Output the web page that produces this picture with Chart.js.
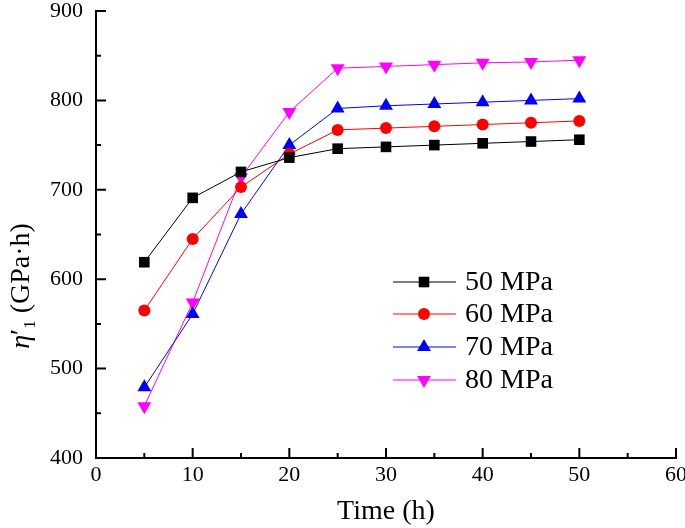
<!DOCTYPE html>
<html lang="en">
<head>
<meta charset="UTF-8">
<title>Viscosity coefficient vs time</title>
<style>
  html, body { margin: 0; padding: 0; background: #fff; }
</style>
</head>
<body>
<canvas id="myChart" width="685" height="528"></canvas>
<script src="https://cdn.jsdelivr.net/npm/chart.js"></script>
<script>
// data
const times = [5, 10, 15, 20, 25, 30, 35, 40, 45, 50];
const mpa50 = [619, 691, 720, 736, 746, 748, 750, 752, 754, 756];
const mpa60 = [565, 645, 703, 740, 767, 769, 771, 773, 775, 777];
const mpa70 = [479, 561, 673, 750, 791, 794, 796, 798, 800, 802];
const mpa80 = [458, 574, 714, 787, 836, 838, 840, 842, 843, 845];
const seriesNames = ['50 MPa', '60 MPa', '70 MPa', '80 MPa'];
const xMajor = [0, 10, 20, 30, 40, 50, 60];
const xMinor = [5, 15, 25, 35, 45, 55];
const yMajor = [400, 500, 600, 700, 800, 900];
const yMinor = [450, 550, 650, 750, 850];

const FONT = '"Liberation Serif", "Times New Roman", serif';

function pts(arr) {
    return times.map((t, i) => ({ x: t, y: arr[i] }));
}

const styles = [
    { color: '#000000', pointStyle: 'rect', radius: 7.5, rotation: 0 },
    { color: '#ff0000', pointStyle: 'circle', radius: 6, rotation: 0 },
    { color: '#0000ff', pointStyle: 'triangle', radius: 8, rotation: 0 },
    { color: '#ff00ff', pointStyle: 'triangle', radius: 8, rotation: 180 },
];

const datasets = [mpa50, mpa60, mpa70, mpa80].map((arr, i) => ({
    label: seriesNames[i],
    data: pts(arr),
    borderColor: styles[i].color,
    backgroundColor: styles[i].color,
    borderWidth: 1,
    pointStyle: styles[i].pointStyle,
    pointRadius: styles[i].radius,
    pointRotation: styles[i].rotation,
    pointBorderWidth: 0,
    showLine: true,
    tension: 0,
}));

// inward ticks, axis titles and the legend box
const decorations = {
    id: 'decorations',
    afterDraw(chart) {
        const c = chart.ctx;
        const xs = chart.scales.x, ys = chart.scales.y;
        const left = chart.chartArea.left, bottom = chart.chartArea.bottom;
        c.save();
        c.strokeStyle = '#000';
        c.lineWidth = 2;
        c.beginPath();
        xMajor.forEach(v => { const px = xs.getPixelForValue(v); c.moveTo(px, bottom); c.lineTo(px, bottom - 10); });
        xMinor.forEach(v => { const px = xs.getPixelForValue(v); c.moveTo(px, bottom); c.lineTo(px, bottom - 5); });
        yMajor.forEach(v => { const py = ys.getPixelForValue(v); c.moveTo(left, py); c.lineTo(left + 10, py); });
        yMinor.forEach(v => { const py = ys.getPixelForValue(v); c.moveTo(left, py); c.lineTo(left + 5, py); });
        c.stroke();

        // x title
        c.fillStyle = '#000';
        c.font = '28px ' + FONT;
        c.textAlign = 'center';
        c.textBaseline = 'alphabetic';
        c.fillText('Time (h)', (xs.left + xs.right) / 2, 519);

        // y title, rotated
        c.translate(29, 286);
        c.rotate(-Math.PI / 2);
        const parts = [
            { t: 'η', f: 'italic 28px ' + FONT, dy: 0 },
            { t: '′', f: '28px ' + FONT, dy: 0 },
            { t: '1', f: '17px ' + FONT, dy: 6 },
            { t: ' (GPa·h)', f: '28px ' + FONT, dy: 0 },
        ];
        let total = 0;
        parts.forEach(p => { c.font = p.f; p.w = c.measureText(p.t).width; total += p.w; });
        let x0 = -total / 2;
        c.textAlign = 'left';
        parts.forEach(p => { c.font = p.f; c.fillText(p.t, x0, p.dy); x0 += p.w; });
        c.restore();

        // legend
        const rows = [282, 314, 347, 380];
        c.save();
        chart.data.datasets.forEach((ds, i) => {
            const y = rows[i];
            c.strokeStyle = ds.borderColor;
            c.lineWidth = 1;
            c.beginPath();
            c.moveTo(393, y);
            c.lineTo(456, y);
            c.stroke();
            c.fillStyle = ds.backgroundColor;
            Chart.helpers.drawPoint(c, {
                pointStyle: ds.pointStyle, radius: ds.pointRadius,
                rotation: ds.pointRotation, borderWidth: 0
            }, 424, y);
            c.fillStyle = '#000';
            c.font = '28px ' + FONT;
            c.textAlign = 'left';
            c.textBaseline = 'middle';
            c.fillText(ds.label, 465, y + 1);
        });
        c.restore();
    }
};

const ctx = document.getElementById('myChart');
const myChart = new Chart(ctx, {
    type: 'scatter',
    data: { datasets: datasets },
    options: {
        responsive: false,
        animation: false,
        layout: { padding: { top: 11, right: 9, left: 0, bottom: 0 } },
        plugins: {
            legend: { display: false },
            tooltip: { enabled: false },
        },
        scales: {
            x: {
                type: 'linear',
                min: 0, max: 60,
                afterFit: s => { s.height = 70; s.paddingLeft = 0; s.paddingRight = 0; },
                afterBuildTicks: s => { s.ticks = xMajor.map(v => ({ value: v })); },
                ticks: { color: '#000', font: { family: FONT, size: 22 }, padding: 4 },
                grid: { display: false, drawTicks: false },
                border: { display: true, color: '#000', width: 2 },
            },
            y: {
                min: 400, max: 900,
                afterFit: s => { s.width = 96; s.paddingTop = 0; s.paddingBottom = 0; },
                afterBuildTicks: s => { s.ticks = yMajor.map(v => ({ value: v })); },
                ticks: { color: '#000', font: { family: FONT, size: 22 }, padding: 13 },
                grid: { display: false, drawTicks: false },
                border: { display: true, color: '#000', width: 2 },
            },
        },
    },
    plugins: [decorations],
});
</script>
</body>
</html>
